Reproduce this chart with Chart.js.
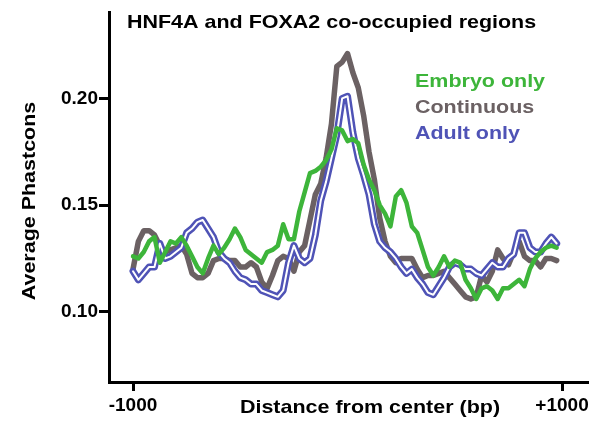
<!DOCTYPE html>
<html>
<head>
<meta charset="utf-8">
<script src="https://cdn.jsdelivr.net/npm/chart.js@4.4.1/dist/chart.umd.min.js"></script>
<style>
  html, body { margin: 0; padding: 0; background: #fff; }
</style>
</head>
<body>
<canvas id="phastcons" width="596" height="424"></canvas>
<script>
// distance from the peak center, 25 bp bins
const distance = [
  -1000, -975, -950, -925, -900, -875, -850, -825, -800, -775,
  -750, -725, -700, -675, -650, -625, -600, -575, -550, -525,
  -500, -475, -450, -425, -400, -375, -350, -325, -300, -275,
  -250, -225, -200, -175, -150, -125, -100, -75, -50, -25,
  0, 25, 50, 75, 100, 125, 150, 175, 200, 225,
  250, 275, 300, 325, 350, 375, 400, 425, 450, 475,
  500, 525, 550, 575, 600, 625, 650, 675, 700, 725,
  750, 775, 800, 825, 850, 875, 900, 925, 950, 975
];

const embryoOnly = [
  0.126, 0.125, 0.128, 0.133, 0.135, 0.123, 0.128, 0.133, 0.132, 0.135,
  0.131, 0.126, 0.121, 0.118, 0.125, 0.131, 0.127, 0.130, 0.134, 0.139,
  0.135, 0.129, 0.127, 0.125, 0.123, 0.128, 0.129, 0.131, 0.141, 0.134,
  0.134, 0.147, 0.156, 0.165, 0.166, 0.168, 0.171, 0.176, 0.186, 0.185,
  0.180, 0.181, 0.179, 0.169, 0.162, 0.157, 0.150, 0.146, 0.140, 0.154,
  0.157, 0.151, 0.140, 0.137, 0.129, 0.121, 0.117, 0.121, 0.126, 0.121,
  0.124, 0.123, 0.115, 0.111, 0.106, 0.111, 0.112, 0.110, 0.106, 0.111,
  0.111, 0.113, 0.115, 0.112, 0.120, 0.125, 0.128, 0.130, 0.131, 0.130
];

const continuous = [
  0.120, 0.133, 0.138, 0.138, 0.136, 0.131, 0.128, 0.129, 0.130, 0.131,
  0.127, 0.118, 0.116, 0.116, 0.118, 0.124, 0.125, 0.125, 0.124, 0.124,
  0.121, 0.121, 0.123, 0.121, 0.114, 0.111, 0.117, 0.124, 0.126, 0.125,
  0.119, 0.128, 0.131, 0.143, 0.155, 0.160, 0.172, 0.188, 0.215, 0.217,
  0.221, 0.212, 0.205, 0.192, 0.175, 0.162, 0.144, 0.133, 0.126, 0.123,
  0.125, 0.125, 0.125, 0.120, 0.116, 0.117, 0.117, 0.118, 0.119, 0.116,
  0.113, 0.110, 0.107, 0.106, 0.107, 0.117, 0.114, 0.119, 0.129, 0.125,
  0.122, 0.128, 0.133, 0.126, 0.124, 0.124, 0.121, 0.125, 0.125, 0.124
];

const adultOnly = [
  0.119, 0.115, 0.118, 0.121, 0.121, 0.132, 0.125, 0.126, 0.128, 0.130,
  0.137, 0.139, 0.142, 0.143, 0.139, 0.135, 0.128, 0.125, 0.123, 0.119,
  0.116, 0.115, 0.113, 0.113, 0.110, 0.109, 0.108, 0.107, 0.110, 0.123,
  0.131, 0.125, 0.123, 0.125, 0.136, 0.152, 0.161, 0.172, 0.183, 0.200,
  0.201, 0.184, 0.172, 0.164, 0.155, 0.141, 0.133, 0.130, 0.128, 0.125,
  0.121, 0.118, 0.120, 0.116, 0.113, 0.109, 0.108, 0.112, 0.116, 0.121,
  0.123, 0.122, 0.120, 0.120, 0.118, 0.117, 0.120, 0.123, 0.121, 0.121,
  0.125, 0.127, 0.137, 0.137, 0.130, 0.128, 0.128, 0.132, 0.135, 0.132
];

const seriesNames = ["Embryo only", "Continuous", "Adult only"];
const yTicks = [0.10, 0.15, 0.20];
const xTicks = [-1000, 1000];
const xTickLabels = ["-1000", "+1000"];
const chartTitle = "HNF4A and FOXA2 co-occupied regions";
const xTitle = "Distance from center (bp)";
const yTitle = "Average Phastcons";

const GREEN = "#3db53a";
const GREY = "#6b6163";
const BLUE = "#4f53b6";
const FONT = '"Liberation Sans", Arial, sans-serif';
const STRETCH = 1.13;   // the labels use a wide bold face

function pts(ys) {
  return distance.map((x, i) => ({ x: x, y: ys[i] }));
}

// bold text, slightly widened
function wideText(ctx, text, x, y, color, align) {
  ctx.save();
  ctx.font = "bold 19px " + FONT;
  ctx.fillStyle = color;
  ctx.textBaseline = "alphabetic";
  ctx.textAlign = align || "left";
  ctx.translate(x, y);
  ctx.scale(STRETCH, 1);
  ctx.fillText(text, 0, 0);
  ctx.restore();
}

const textLayer = {
  id: "textLayer",
  afterDraw(chart) {
    const ctx = chart.ctx;
    wideText(ctx, chartTitle, 127, 28, "#000");

    const legendColors = [GREEN, GREY, BLUE];
    seriesNames.forEach((name, i) => {
      wideText(ctx, name, 415, 87 + i * 26, legendColors[i]);
    });

    wideText(ctx, xTitle, 370, 413, "#000", "center");

    ctx.save();
    ctx.translate(35, 201);
    ctx.rotate(-Math.PI / 2);
    wideText(ctx, yTitle, 0, 0, "#000", "center");
    ctx.restore();
  }
};

const lineStyle = {
  pointRadius: 0,
  tension: 0,
  borderJoinStyle: "round",
  borderCapStyle: "round",
  fill: false
};

const tickFont = { family: FONT, size: 19, weight: "bold" };

new Chart(document.getElementById("phastcons"), {
  type: "line",
  data: {
    datasets: [
      Object.assign({ label: seriesNames[1], data: pts(continuous), borderColor: GREY, borderWidth: 5.5, order: 4 }, lineStyle),
      Object.assign({ label: seriesNames[2], data: pts(adultOnly), borderColor: BLUE, borderWidth: 7, order: 3 }, lineStyle),
      Object.assign({ label: seriesNames[2] + " core", data: pts(adultOnly), borderColor: "#ffffff", borderWidth: 2, order: 2 }, lineStyle),
      Object.assign({ label: seriesNames[0], data: pts(embryoOnly), borderColor: GREEN, borderWidth: 4.5, order: 1 }, lineStyle)
    ]
  },
  options: {
    responsive: false,
    animation: false,
    devicePixelRatio: 1,
    layout: { padding: { top: 8, right: 8, left: 0, bottom: 0 } },
    plugins: {
      legend: { display: false },
      title: { display: false },
      tooltip: { enabled: false }
    },
    scales: {
      x: {
        type: "linear",
        min: -1112,
        max: 1121,
        afterBuildTicks: s => { s.ticks = xTicks.map(v => ({ value: v })); },
        afterFit: s => { s.height = 42; },
        ticks: {
          callback: v => xTickLabels[xTicks.indexOf(v)],
          font: tickFont,
          color: "#000",
          padding: 3,
          maxRotation: 0,
          autoSkip: false
        },
        grid: { drawOnChartArea: false, drawTicks: true, tickLength: 9, tickWidth: 3, tickColor: "#000" },
        border: { color: "#000", width: 3 }
      },
      y: {
        type: "linear",
        min: 0.0671,
        max: 0.2403,
        afterBuildTicks: s => { s.ticks = yTicks.map(v => ({ value: v })); },
        afterFit: s => { s.width = 109; },
        ticks: {
          callback: v => v.toFixed(2),
          font: tickFont,
          color: "#000",
          padding: 1
        },
        grid: { drawOnChartArea: false, drawTicks: true, tickLength: 10, tickWidth: 3, tickColor: "#000" },
        border: { color: "#000", width: 3 }
      }
    }
  },
  plugins: [textLayer]
});
</script>
</body>
</html>
